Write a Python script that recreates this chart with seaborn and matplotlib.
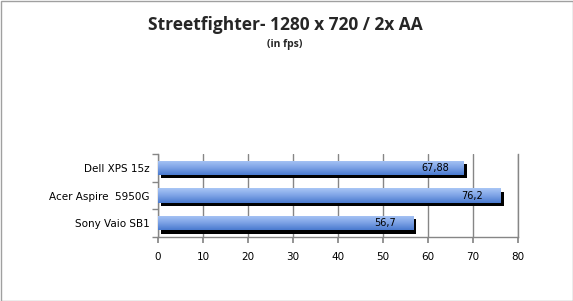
import matplotlib
matplotlib.use("Agg")
import matplotlib.pyplot as plt
import matplotlib.patheffects as pe
from matplotlib.colors import LinearSegmentedColormap
import numpy as np
import pandas as pd
import seaborn as sns

categories = ["Dell XPS 15z", "Acer Aspire  5950G", "Sony Vaio SB1"]
values = [67.88, 76.2, 56.7]
value_labels = ["67,88", "76,2", "56,7"]
xticks = [0, 10, 20, 30, 40, 50, 60, 70, 80]

sns.set_theme(style="white")
plt.rcParams['font.family'] = ['DejaVu Sans']

fig = plt.figure(figsize=(5.73, 3.01), dpi=100)
fig.patch.set_facecolor("white")
ax = fig.add_axes([158/573, 1-237/301, 360/573, 83/301])

df = pd.DataFrame({"cat": categories, "val": values})
sns.barplot(data=df, y="cat", x="val", orient="h", ax=ax, color="#6f97dc",
            width=0.52, saturation=1, zorder=3)

cmap = LinearSegmentedColormap.from_list("g", ["#a9c6f5", "#7ea3e6", "#4a7acf"])
grad = np.linspace(0, 1, 64).reshape(-1, 1)
for p in ax.patches:
    p.set_path_effects([pe.SimplePatchShadow(offset=(2.3, -2.3), shadow_rgbFace="black", alpha=1.0),
                        pe.Normal()])
    p.set_linewidth(0)
    x0, y0 = p.get_x(), p.get_y()
    w, h = p.get_width(), p.get_height()
    im = ax.imshow(grad, extent=[x0, x0 + w, y0 + h, y0], cmap=cmap, aspect="auto",
                   zorder=4, origin="upper")
    im.set_clip_path(p)

for i, (v, lab) in enumerate(zip(values, value_labels)):
    ax.text(v - 6.3, i, lab, ha="center", va="center", fontsize=7, color="black", zorder=6)

ax.set_xlim(0, 80)
ax.set_ylim(2.5, -0.5)
ax.set_xticks(xticks)
ax.set_xticklabels([str(t) for t in xticks], fontsize=7.5, color="black")
ax.set_ylabel("")
ax.set_xlabel("")
for t in ax.get_yticklabels():
    t.set_color("black")
ax.tick_params(axis="y", labelsize=7.5, length=4, color="#868686", pad=6, left=True)
ax.tick_params(axis="x", length=4, color="#868686", pad=7, bottom=True)
ax.set_yticks([-0.5, 0.5, 1.5, 2.5], minor=True)
ax.tick_params(axis="y", which="minor", length=4, color="#868686", left=True)
ax.tick_params(axis="y", which="major", length=0)
ax.grid(axis="x", color="#868686", linewidth=1, zorder=0)
ax.set_axisbelow(True)
ax.spines["top"].set_visible(False)
for s in ["left", "bottom", "right"]:
    ax.spines[s].set_color("#868686")
    ax.spines[s].set_linewidth(1)

fig.text(285/573, 1-25/301, "Streetfighter- 1280 x 720 / 2x AA", ha="center", va="center",
         fontsize=12.5, fontweight="bold", family=["Open Sans", "DejaVu Sans"])
fig.text(285/573, 1-45/301, "(in fps)", ha="center", va="center",
         fontsize=7.5, fontweight="bold", family=["Open Sans", "DejaVu Sans"])

border = plt.Rectangle((0.5/573, 0.5/301), 1-1/573, 1-1/301, transform=fig.transFigure,
                       fill=False, edgecolor="#a0a0a0", linewidth=1)
fig.patches.append(border)

fig.savefig("out.png", dpi=100)
